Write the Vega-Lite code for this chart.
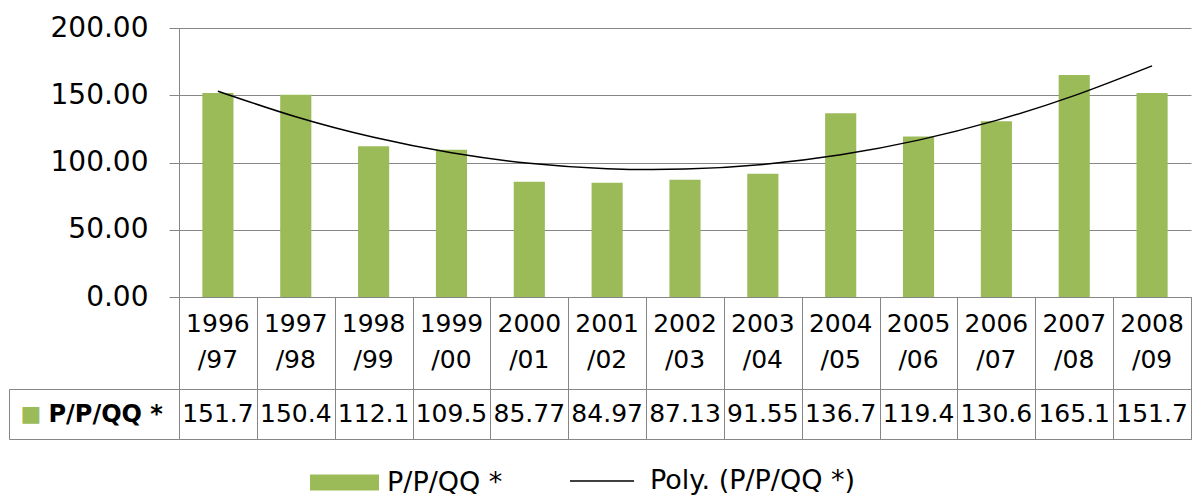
{
  "$schema": "https://vega.github.io/schema/vega-lite/v6.json",
  "padding": {"left": 8, "top": 14, "right": 0, "bottom": 0},
  "background": "white",
  "config": {"font": "DejaVu Sans", "view": {"stroke": null}},
  "data": {"values": [
    {"period": "1996/97", "label": "1996\n/97", "value": 151.7, "trend": 153.04, "s": "P/P/QQ *", "t": "Poly. (P/P/QQ *)"},
    {"period": "1997/98", "label": "1997\n/98", "value": 150.4, "trend": 134.02, "s": "P/P/QQ *", "t": "Poly. (P/P/QQ *)"},
    {"period": "1998/99", "label": "1998\n/99", "value": 112.1, "trend": 118.74, "s": "P/P/QQ *", "t": "Poly. (P/P/QQ *)"},
    {"period": "1999/00", "label": "1999\n/00", "value": 109.5, "trend": 107.21, "s": "P/P/QQ *", "t": "Poly. (P/P/QQ *)"},
    {"period": "2000/01", "label": "2000\n/01", "value": 85.77, "trend": 99.42, "s": "P/P/QQ *", "t": "Poly. (P/P/QQ *)"},
    {"period": "2001/02", "label": "2001\n/02", "value": 84.97, "trend": 95.38, "s": "P/P/QQ *", "t": "Poly. (P/P/QQ *)"},
    {"period": "2002/03", "label": "2002\n/03", "value": 87.13, "trend": 95.08, "s": "P/P/QQ *", "t": "Poly. (P/P/QQ *)"},
    {"period": "2003/04", "label": "2003\n/04", "value": 91.55, "trend": 98.52, "s": "P/P/QQ *", "t": "Poly. (P/P/QQ *)"},
    {"period": "2004/05", "label": "2004\n/05", "value": 136.7, "trend": 105.70, "s": "P/P/QQ *", "t": "Poly. (P/P/QQ *)"},
    {"period": "2005/06", "label": "2005\n/06", "value": 119.4, "trend": 116.63, "s": "P/P/QQ *", "t": "Poly. (P/P/QQ *)"},
    {"period": "2006/07", "label": "2006\n/07", "value": 130.6, "trend": 131.30, "s": "P/P/QQ *", "t": "Poly. (P/P/QQ *)"},
    {"period": "2007/08", "label": "2007\n/08", "value": 165.1, "trend": 149.71, "s": "P/P/QQ *", "t": "Poly. (P/P/QQ *)"},
    {"period": "2008/09", "label": "2008\n/09", "value": 151.7, "trend": 171.87, "s": "P/P/QQ *", "t": "Poly. (P/P/QQ *)"}
  ]},
  "bounds": "flush",
  "spacing": 0,
  "resolve": {"scale": {"x": "independent", "y": "independent"}},
  "vconcat": [
    {
      "width": 1012,
      "height": 269,
      "encoding": {
        "x": {"field": "period", "type": "nominal", "sort": null, "scale": {"paddingInner": 0.6, "paddingOuter": 0.3}, "axis": null}
      },
      "layer": [
        {
          "mark": {"type": "bar"},
          "encoding": {
            "y": {"field": "value", "type": "quantitative", "scale": {"domain": [0, 200], "nice": false},
              "axis": {"values": [0, 50, 100, 150, 200], "format": ".2f", "title": null, "labelFontSize": 28, "labelColor": "#000000",
                "labelPadding": 21, "tickSize": 10, "tickColor": "#868686", "domainColor": "#868686", "grid": true, "gridColor": "#868686", "gridOpacity": 1}},
            "color": {"field": "s", "type": "nominal", "scale": {"range": ["#9BBB59"]},
              "legend": {"orient": "none", "legendX": 131, "legendY": 420, "title": null, "symbolType": "M-1,-0.232H1V0.232H-1Z", "symbolSize": 4761,
                "symbolStrokeWidth": 0, "labelFontSize": 27, "labelColor": "#000000", "labelOffset": 8, "labelLimit": 400}}
          }
        },
        {
          "mark": {"type": "line", "interpolate": "natural", "strokeWidth": 1.5},
          "encoding": {
            "y": {"field": "trend", "type": "quantitative"},
            "stroke": {"field": "t", "type": "nominal", "scale": {"range": ["#000000"]},
              "legend": {"orient": "none", "legendX": 390, "legendY": 420, "title": null, "symbolType": "stroke", "symbolSize": 4096,
                "symbolStrokeWidth": 1.5, "labelFontSize": 27, "labelColor": "#000000", "labelOffset": 15, "labelLimit": 400}}
          }
        }
      ]
    },
    {
      "width": 1012,
      "height": 92,
      "view": {"stroke": "#868686"},
      "mark": {"type": "text", "fontSize": 25, "lineBreak": "\n", "lineHeight": 36, "dy": -19, "color": "#000000"},
      "encoding": {
        "x": {"field": "period", "type": "nominal", "sort": null, "scale": {"paddingInner": 0, "paddingOuter": 0},
          "axis": {"grid": true, "tickBand": "extent", "gridColor": "#868686", "gridOpacity": 1, "labels": false, "ticks": false, "domain": false, "title": null}},
        "text": {"field": "label", "type": "nominal"}
      }
    },
    {
      "width": 1012,
      "height": 50,
      "view": {"stroke": "#868686"},
      "resolve": {"axis": {"y": "independent"}},
      "encoding": {
        "x": {"field": "period", "type": "nominal", "sort": null, "scale": {"paddingInner": 0, "paddingOuter": 0},
          "axis": {"grid": true, "tickBand": "extent", "gridColor": "#868686", "gridOpacity": 1, "labels": false, "ticks": false, "domain": false, "title": null}}
      },
      "layer": [
        {
          "mark": {"type": "text", "fontSize": 25, "color": "#000000"},
          "encoding": {
            "y": {"field": "s", "type": "nominal", "scale": {"paddingInner": 0, "paddingOuter": 0},
              "axis": {"orient": "left", "title": null, "domain": false, "tickBand": "extent", "tickSize": 170, "tickColor": "#868686",
                "labelAlign": "left", "labelPadding": -39, "labelFontSize": 24, "labelFontWeight": "bold", "labelColor": "#000000"}},
            "text": {"field": "value", "type": "quantitative"}
          }
        },
        {
          "mark": {"type": "point", "opacity": 0},
          "encoding": {
            "y": {"field": "s", "type": "nominal",
              "axis": {"orient": "left", "offset": 170, "title": null, "domain": true, "domainColor": "#868686", "ticks": false,
                "labelAlign": "left", "labelPadding": -11, "labelExpr": "'■'", "labelColor": "#9BBB59", "labelFontSize": 22}}
          }
        }
      ]
    }
  ]
}
